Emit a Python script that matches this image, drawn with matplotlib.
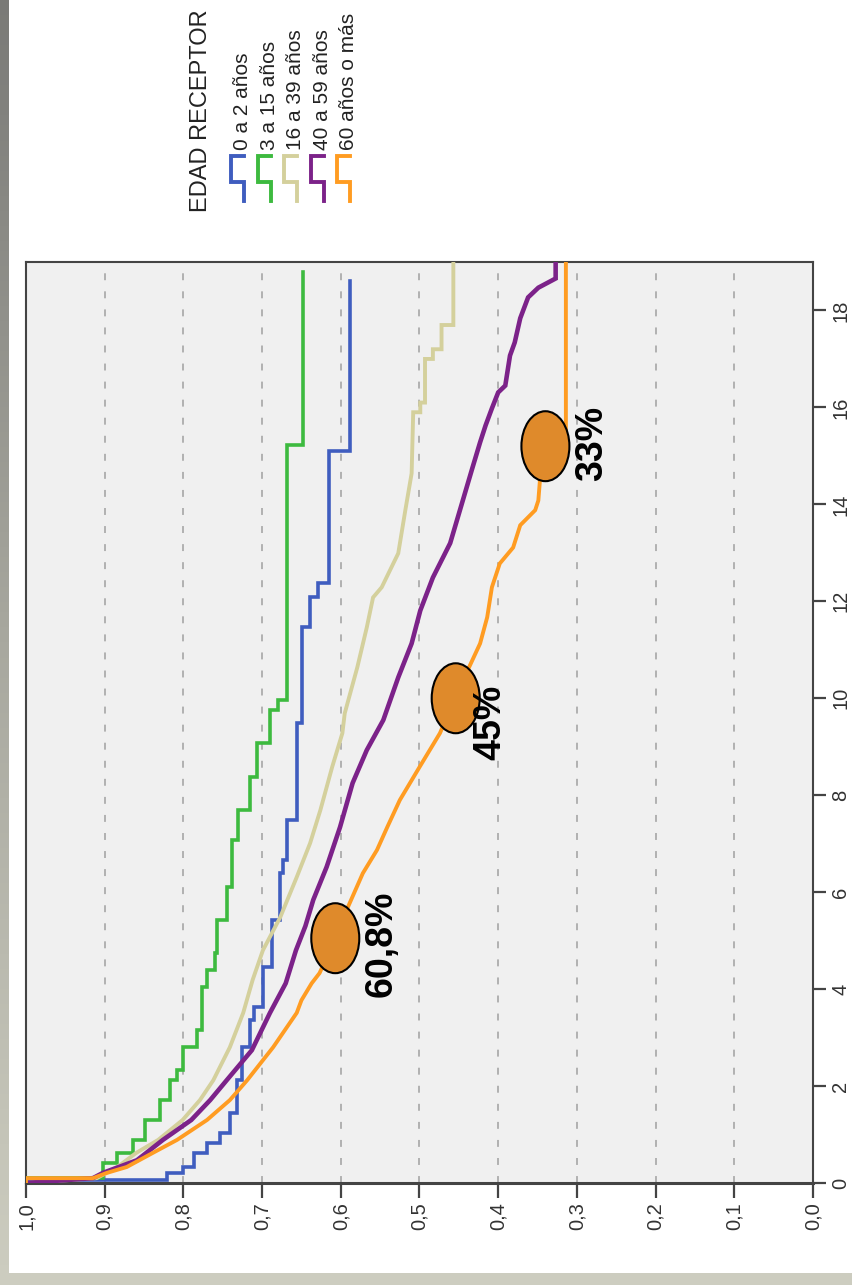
import matplotlib
matplotlib.use("Agg")
import matplotlib.pyplot as plt
import numpy as np
from matplotlib.patches import Ellipse, Rectangle
from matplotlib.lines import Line2D
from matplotlib.colors import LinearSegmentedColormap

plt.rcParams['font.family'] = ['Liberation Sans', 'DejaVu Sans']
plt.rcParams['lines.scale_dashes'] = False

# ---------------- data ----------------
legend_title = "EDAD RECEPTOR"
group_labels = ["0 a 2 años", "3 a 15 años", "16 a 39 años", "40 a 59 años", "60 años o más"]
group_colors = ["#3f5dbf", "#3dba3f", "#d4d09c", "#7c2289", "#ff9c22"]

blue_t = [0, 0.06, 0.21, 0.33, 0.62, 0.82, 1.03, 1.44, 2.12, 2.80, 3.36, 3.63, 4.45, 5.42,
          6.39, 6.66, 7.48, 9.50, 11.46, 12.08, 12.37, 15.11, 18.60]
blue_s = [1.0, 0.821, 0.800, 0.787, 0.770, 0.753, 0.741, 0.732, 0.726, 0.715, 0.710, 0.699,
          0.687, 0.677, 0.674, 0.668, 0.656, 0.649, 0.639, 0.629, 0.615, 0.588, 0.588]

green_t = [0, 0.10, 0.41, 0.62, 0.89, 1.30, 1.71, 2.12, 2.33, 2.80, 3.15, 4.04, 4.40, 4.74,
           5.42, 6.10, 7.07, 7.69, 8.37, 9.07, 9.75, 9.96, 15.22, 18.80]
green_s = [1.0, 0.902, 0.884, 0.864, 0.849, 0.830, 0.817, 0.808, 0.801, 0.783, 0.777, 0.770,
           0.760, 0.757, 0.744, 0.738, 0.730, 0.715, 0.706, 0.690, 0.680, 0.668, 0.648, 0.648]

tan_t = [0, 0.10, 0.33, 0.62, 0.89, 1.30, 1.71, 2.12, 2.80, 3.51, 4.19, 4.80, 5.48, 6.31,
         7.01, 7.69, 8.58, 9.28, 9.69, 10.64, 11.46, 12.08, 12.29, 12.99, 13.88, 14.64,
         15.90, 15.90, 16.10, 16.10, 17.00, 17.00, 17.20, 17.20, 17.70, 17.70, 19.0]
tan_s = [1.0, 0.910, 0.884, 0.860, 0.832, 0.801, 0.779, 0.762, 0.741, 0.724, 0.712, 0.699,
         0.677, 0.656, 0.639, 0.626, 0.611, 0.598, 0.595, 0.579, 0.567, 0.559, 0.548, 0.527,
         0.518, 0.510, 0.508, 0.499, 0.499, 0.493, 0.493, 0.483, 0.483, 0.472, 0.472, 0.457,
         0.457]

purple_t = [0, 0.10, 0.21, 0.47, 0.89, 1.30, 1.71, 2.12, 2.74, 3.51, 4.12, 4.80, 5.30, 5.84,
            6.52, 7.34, 8.25, 8.93, 9.55, 10.43, 11.13, 11.81, 12.49, 13.20, 14.08, 14.74,
            15.28, 15.63, 15.98, 16.31, 16.45, 17.07, 17.34, 17.84, 18.27, 18.47, 18.66, 19.0]
purple_s = [1.0, 0.915, 0.902, 0.859, 0.826, 0.790, 0.766, 0.745, 0.713, 0.690, 0.670, 0.657,
            0.645, 0.635, 0.618, 0.601, 0.585, 0.567, 0.546, 0.527, 0.510, 0.499, 0.483,
            0.461, 0.445, 0.433, 0.423, 0.416, 0.408, 0.400, 0.391, 0.385, 0.379, 0.372,
            0.362, 0.349, 0.327, 0.327]

orange_t = [0, 0.10, 0.10, 0.21, 0.33, 0.62, 0.89, 1.30, 1.71, 2.12, 2.80, 3.51, 3.77, 4.12,
            4.33, 5.00, 5.69, 6.39, 6.87, 7.34, 7.90, 8.58, 9.28, 10.00, 10.64, 11.13, 11.67,
            12.29, 12.78, 13.11, 13.57, 13.88, 14.08, 14.49, 15.53, 15.53, 19.0]
orange_s = [1.0, 1.0, 0.915, 0.897, 0.872, 0.839, 0.808, 0.770, 0.741, 0.719, 0.686, 0.656,
            0.650, 0.637, 0.627, 0.608, 0.591, 0.572, 0.554, 0.541, 0.525, 0.500, 0.474,
            0.455, 0.437, 0.423, 0.414, 0.408, 0.398, 0.381, 0.372, 0.353, 0.349, 0.347,
            0.347, 0.314, 0.314]

series_t = [blue_t, green_t, tan_t, purple_t, orange_t]
series_s = [blue_s, green_s, tan_s, purple_s, orange_s]
series_draw = ['steps-pre', 'steps-pre', 'default', 'default', 'default']
series_lw = [2.6, 2.6, 2.8, 3.3, 2.8]

time_ticks = [0, 2, 4, 6, 8, 10, 12, 14, 16, 18]
surv_ticks = [1.0, 0.9, 0.8, 0.7, 0.6, 0.5, 0.4, 0.3, 0.2, 0.1, 0.0]
surv_tick_labels = ["1,0", "0,9", "0,8", "0,7", "0,6", "0,5", "0,4", "0,3", "0,2", "0,1", "0,0"]
grid_vals = [0.9, 0.8, 0.7, 0.6, 0.5, 0.4, 0.3, 0.2, 0.1]

annot_time = [5.05, 10.0, 15.2]
annot_surv = [0.607, 0.454, 0.340]
annot_labels = ["60,8%", "45%", "33%"]

# ---------------- figure ----------------
W, H = 853, 1285
fig = plt.figure(figsize=(W / 100, H / 100), dpi=100)

bg = fig.add_axes([0, 0, 1, 1], zorder=-10)
grad = np.linspace(0, 1, 256).reshape(-1, 1)
cmap = LinearSegmentedColormap.from_list('bg', ['#7a7a77', '#a8a89f', '#cdcdc0'])
bg.imshow(grad, aspect='auto', cmap=cmap, extent=[0, 1, 0, 1], origin='upper')
bg.add_patch(Rectangle((9 / W, 12 / H), 1, 1, facecolor='white', edgecolor='none',
                       transform=bg.transAxes))
bg.set_xlim(0, 1)
bg.set_ylim(0, 1)
bg.axis('off')

ax = fig.add_axes([26 / W, 102 / H, 787 / W, 921 / H])
ax.set_facecolor('#f0f0f0')
ax.set_xlim(1.0, 0.0)
ax.set_ylim(0, 19)

for g in grid_vals:
    ax.axvline(g, color='#a0a0a0', lw=1.1, ls=(0, (5, 8)), zorder=1)

for t, s, c, ds, lw in zip(series_t, series_s, group_colors, series_draw, series_lw):
    ax.plot(s, t, color=c, lw=lw, drawstyle=ds, solid_joinstyle='miter', zorder=3)

for spn in ax.spines.values():
    spn.set_color('#444444')
    spn.set_linewidth(1.5)
ax.spines['bottom'].set_linewidth(2.2)

ax.set_xticks(surv_ticks)
ax.set_xticklabels(surv_tick_labels, rotation=90)
ax.tick_params(axis='x', direction='out', length=11, width=1.6, color='#444444',
               labelsize=14.5, labelcolor='#333333', pad=3)

ax.yaxis.tick_right()
ax.set_yticks(time_ticks)
ax.set_yticklabels([str(v) for v in time_ticks], rotation=90, va='center')
ax.tick_params(axis='y', direction='out', length=9, width=1.6, color='#444444',
               labelsize=14.5, labelcolor='#333333', pad=4)

# annotations
offsets = [(46, -6), (35, -24), (47, 3)]
for tt, ss, lbl, off in zip(annot_time, annot_surv, annot_labels, offsets):
    ax.add_patch(Ellipse((ss, tt), width=0.061, height=1.443, facecolor='#df8a2b',
                         edgecolor='black', lw=1.5, zorder=5))
    ax.annotate(lbl, xy=(ss, tt), xytext=off, textcoords='offset pixels', rotation=90,
                fontsize=27, fontweight='bold', ha='center', va='center', zorder=6)

# legend (rotated)
fig.text(201 / W, 1 - 212 / H, legend_title, rotation=90, ha='center', va='bottom',
         fontsize=17, color='#222222')
for i, (lbl, c) in enumerate(zip(group_labels, group_colors)):
    xc = 237.5 + 26.6 * i
    xs = np.array([xc + 6.5, xc - 6.5, xc - 6.5, xc + 6.5, xc + 6.5])
    ys = np.array([156, 156, 182, 182, 201])
    fig.add_artist(Line2D(xs / W, 1 - ys / H, transform=fig.transFigure, color=c, lw=2.8,
                          solid_joinstyle='miter'))
    fig.text((xc + 5) / W, 1 - 150 / H, lbl, rotation=90, ha='center', va='bottom',
             fontsize=15, color='#222222')

fig.savefig('out.png', dpi=100)
